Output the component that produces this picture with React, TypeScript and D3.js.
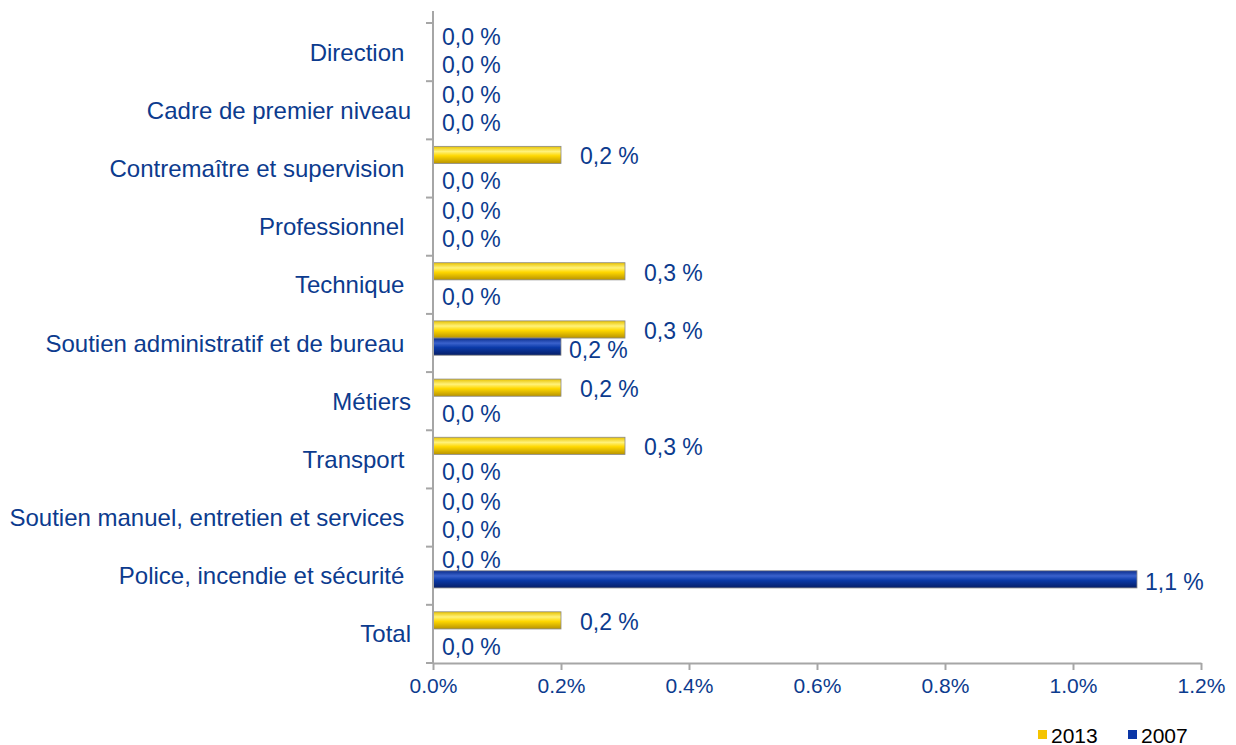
import React, { useEffect, useRef } from "react";
import * as d3 from "d3";

// categories, top to bottom (trailing spaces as in the source labels)
const categories = [
  "Direction ",
  "Cadre de premier niveau",
  "Contremaître et supervision ",
  "Professionnel ",
  "Technique ",
  "Soutien administratif et de bureau ",
  "Métiers",
  "Transport ",
  "Soutien manuel, entretien et services ",
  "Police, incendie et sécurité ",
  "Total",
];
const seriesNames = ["2013", "2007"];
// values in %
const values2013 = [0, 0, 0.2, 0, 0.3, 0.3, 0.2, 0.3, 0, 0, 0.2];
const values2007 = [0, 0, 0, 0, 0, 0.2, 0, 0, 0, 1.1, 0];
const xTicks = [0, 0.2, 0.4, 0.6, 0.8, 1.0, 1.2];

const W = 1236;
const H = 745;
const textBlue = "#0c3b8e";
const font = "'Liberation Sans', Arial, sans-serif";

function App() {
  const ref = useRef<SVGSVGElement>(null);

  useEffect(() => {
    const svg = d3.select(ref.current);
    svg.selectAll("*").remove();

    const x = d3.scaleLinear([0, 1.2], [433, 1201]);
    const y = d3.scaleBand(categories, [23, 663]);
    const bw = y.bandwidth();
    // the two bars sit a bit above the band centre
    const inner = d3.scaleBand(seriesNames, [bw * 0.12, bw * 0.71]);

    const defs = svg.append("defs");
    const grad = (id: string, stops: [number, string][]) => {
      const g = defs.append("linearGradient").attr("id", id)
        .attr("x1", 0).attr("y1", 0).attr("x2", 0).attr("y2", 1);
      stops.forEach(([o, c]) => g.append("stop").attr("offset", o).attr("stop-color", c));
    };
    grad("g2013", [[0, "#e8c200"], [0.3, "#fff27a"], [0.55, "#ffd800"], [1, "#b89300"]]);
    grad("g2007", [[0, "#0a2c8c"], [0.3, "#3a62cc"], [0.55, "#0b3aa8"], [1, "#061e66"]]);

    const data = [values2013, values2007];

    // bars
    seriesNames.forEach((s, si) => {
      svg.append("g")
        .selectAll("rect")
        .data(categories.filter((_, i) => data[si][i] > 0))
        .join("rect")
        .attr("x", x(0))
        .attr("y", c => y(c)! + inner(s)!)
        .attr("width", c => x(data[si][categories.indexOf(c)]) - x(0))
        .attr("height", inner.bandwidth())
        .attr("fill", `url(#g${s})`)
        .attr("stroke", "#8a8a8a")
        .attr("stroke-width", 0.8);
    });

    // value labels: zero labels are pushed apart a little, like Excel does
    const labelShift = (si: number, v: number) =>
      si === 0 ? (v === 0 ? -2 : 1.5) : (v === 0 ? 9 : 3);
    seriesNames.forEach((s, si) => {
      svg.append("g")
        .selectAll("text")
        .data(categories)
        .join("text")
        .attr("x", (c, i) => {
          const v = data[si][i];
          if (v === 0) return x(0) + 9;
          return x(v) + (si === 0 ? 19 : 8);
        })
        .attr("y", (c, i) => y(c)! + inner(s)! + inner.bandwidth() / 2 + labelShift(si, data[si][i]))
        .attr("dominant-baseline", "central")
        .attr("font-family", font)
        .attr("font-size", 23)
        .attr("fill", textBlue)
        .text((c, i) => `${d3.format(".1f")(data[si][i]).replace(".", ",")} %`);
    });

    // category labels
    svg.append("g")
      .selectAll("text")
      .data(categories)
      .join("text")
      .attr("x", 411)
      .attr("y", c => y(c)! + bw / 2)
      .attr("text-anchor", "end")
      .attr("dominant-baseline", "central")
      .attr("font-family", font)
      .attr("font-size", 24)
      .attr("fill", textBlue)
      .style("white-space", "pre")
      .text(c => c);

    const axisColor = "#a6a6a6";

    // y axis line and boundary ticks
    const yAx = svg.append("g").attr("stroke", axisColor).attr("stroke-width", 2);
    yAx.append("line").attr("x1", x(0)).attr("x2", x(0)).attr("y1", 11).attr("y2", y.range()[1]);
    yAx.selectAll("line.tick")
      .data([...categories.map(c => y(c)!), y.range()[1]])
      .join("line")
      .attr("class", "tick")
      .attr("x1", x(0) - 7).attr("x2", x(0))
      .attr("y1", d => d).attr("y2", d => d);

    // x axis
    const xAx = svg.append("g")
      .attr("transform", `translate(0,${y.range()[1]})`)
      .call(d3.axisBottom(x).tickValues(xTicks).tickSize(7).tickSizeOuter(0)
        .tickFormat(d => `${d3.format(".1f")(d as number)}%`));
    xAx.select(".domain").attr("stroke", axisColor).attr("stroke-width", 2);
    xAx.selectAll(".tick line").attr("stroke", axisColor).attr("stroke-width", 2);
    xAx.selectAll(".tick text")
      .attr("font-family", font)
      .attr("font-size", 21)
      .attr("fill", textBlue)
      .attr("dy", "0.95em");

    // legend
    const legend = svg.append("g").attr("transform", "translate(1038,735)");
    const legendColors = ["#f5c400", "#0b36a6"];
    seriesNames.forEach((s, i) => {
      const g = legend.append("g").attr("transform", `translate(${i * 90},0)`);
      g.append("rect").attr("x", 0).attr("y", -5).attr("width", 9).attr("height", 9)
        .attr("fill", legendColors[i]);
      g.append("text").attr("x", 13).attr("y", 0)
        .attr("dominant-baseline", "central")
        .attr("font-family", font)
        .attr("font-size", 21)
        .attr("fill", "#000")
        .text(s);
    });
  }, []);

  return (
    <svg
      ref={ref}
      width={W}
      height={H}
      style={{ position: "absolute", left: 0, top: 0, background: "#fff" }}
    />
  );
}

export default App;
